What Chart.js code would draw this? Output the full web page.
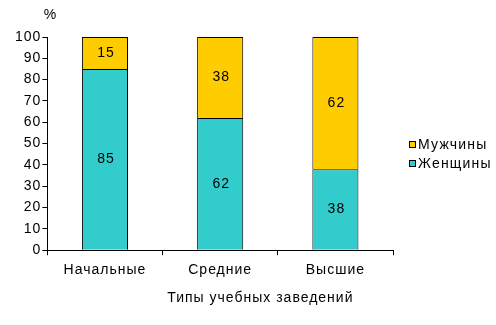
<!DOCTYPE html>
<html>
<head>
<meta charset="utf-8">
<script src="https://cdn.jsdelivr.net/npm/chart.js@4"></script>
<style>
  body { margin: 0; background: #fff; }
  #wrap { width: 496px; height: 325px; }
</style>
</head>
<body>
<div id="wrap"><canvas id="myChart"></canvas></div>
<script>
const categories = ["Начальные", "Средние", "Высшие"];
const women = [85, 62, 38];
const men = [15, 38, 62];
const yTicks = [0, 10, 20, 30, 40, 50, 60, 70, 80, 90, 100];
const xTitle = "Типы учебных заведений";

const fontFam = "'Liberation Sans', Arial, sans-serif";
const spacing = '1px';

// wider letter spacing for all canvas text (reset whenever canvas is resized)
const spacer = {
  id: 'spacer',
  beforeUpdate(chart) { chart.ctx.letterSpacing = spacing; },
  beforeLayout(chart) { chart.ctx.letterSpacing = spacing; },
  beforeDraw(chart) { chart.ctx.letterSpacing = spacing; }
};

// numbers in the middle of each bar segment
const segLabels = {
  id: 'segLabels',
  afterDatasetsDraw(chart) {
    const ctx = chart.ctx;
    ctx.save();
    ctx.font = "14px " + fontFam;
    ctx.fillStyle = "#000";
    ctx.textAlign = "center";
    ctx.textBaseline = "middle";
    chart.data.datasets.forEach((ds, i) => {
      chart.getDatasetMeta(i).data.forEach((bar, j) => {
        const mid = (bar.y + bar.base) / 2;
        ctx.fillText(ds.data[j], bar.x + 1, mid);
      });
    });
    ctx.restore();
  }
};

// "%" over the value axis, axis title and the legend on the right
const extras = {
  id: 'extras',
  afterDraw(chart) {
    const ctx = chart.ctx;
    const y = chart.scales.y;
    const area = chart.chartArea;
    ctx.save();
    ctx.font = "14px " + fontFam;
    ctx.fillStyle = "#000";
    ctx.textAlign = "center";
    ctx.textBaseline = "middle";
    ctx.fillText("%", y.right + 3, y.top - 22);
    ctx.fillText(xTitle, area.left + 213, area.bottom + 48);

    // legend, top series first
    ctx.textAlign = "left";
    ctx.letterSpacing = '1.2px';
    const items = chart.data.datasets.slice().reverse();
    items.forEach((ds, k) => {
      const cy = area.top + 107 + k * 19;
      const bx = area.right + 16;
      ctx.fillStyle = ds.backgroundColor;
      ctx.fillRect(bx, cy - 3, 7, 7);
      ctx.strokeStyle = '#000';
      ctx.lineWidth = 1;
      ctx.strokeRect(bx + 0.5, cy - 2.5, 6, 6);
      ctx.fillStyle = '#000';
      ctx.fillText(ds.label, bx + 9, cy + 1);
    });
    ctx.restore();
  }
};

new Chart(document.getElementById('myChart'), {
  type: 'bar',
  data: {
    labels: categories,
    datasets: [
      {
        label: 'Женщины',
        data: women,
        backgroundColor: '#33CCCC',
        borderColor: '#000',
        borderWidth: 1
      },
      {
        label: 'Мужчины',
        data: men,
        backgroundColor: '#FFCC00',
        borderColor: '#000',
        borderWidth: 1
      }
    ]
  },
  options: {
    responsive: true,
    maintainAspectRatio: false,
    animation: false,
    layout: { padding: { top: 37, left: 14, right: 103, bottom: 39 } },
    datasets: { bar: { categoryPercentage: 1, barPercentage: 0.4 } },
    plugins: {
      tooltip: { enabled: false },
      legend: { display: false }
    },
    scales: {
      x: {
        stacked: true,
        border: { color: '#000', width: 1 },
        grid: { display: true, drawOnChartArea: false, color: '#000', tickLength: 5, offset: true },
        ticks: { color: '#000', font: { family: fontFam, size: 14 }, padding: 7 }
      },
      y: {
        stacked: true,
        min: 0,
        max: 100,
        afterBuildTicks(scale) { scale.ticks = yTicks.map(v => ({ value: v })); },
        border: { color: '#000', width: 1 },
        grid: { drawOnChartArea: false, color: '#000', tickLength: 5 },
        ticks: { color: '#000', font: { family: fontFam, size: 14 }, padding: 1 }
      }
    }
  },
  plugins: [spacer, segLabels, extras]
});
</script>
</body>
</html>
